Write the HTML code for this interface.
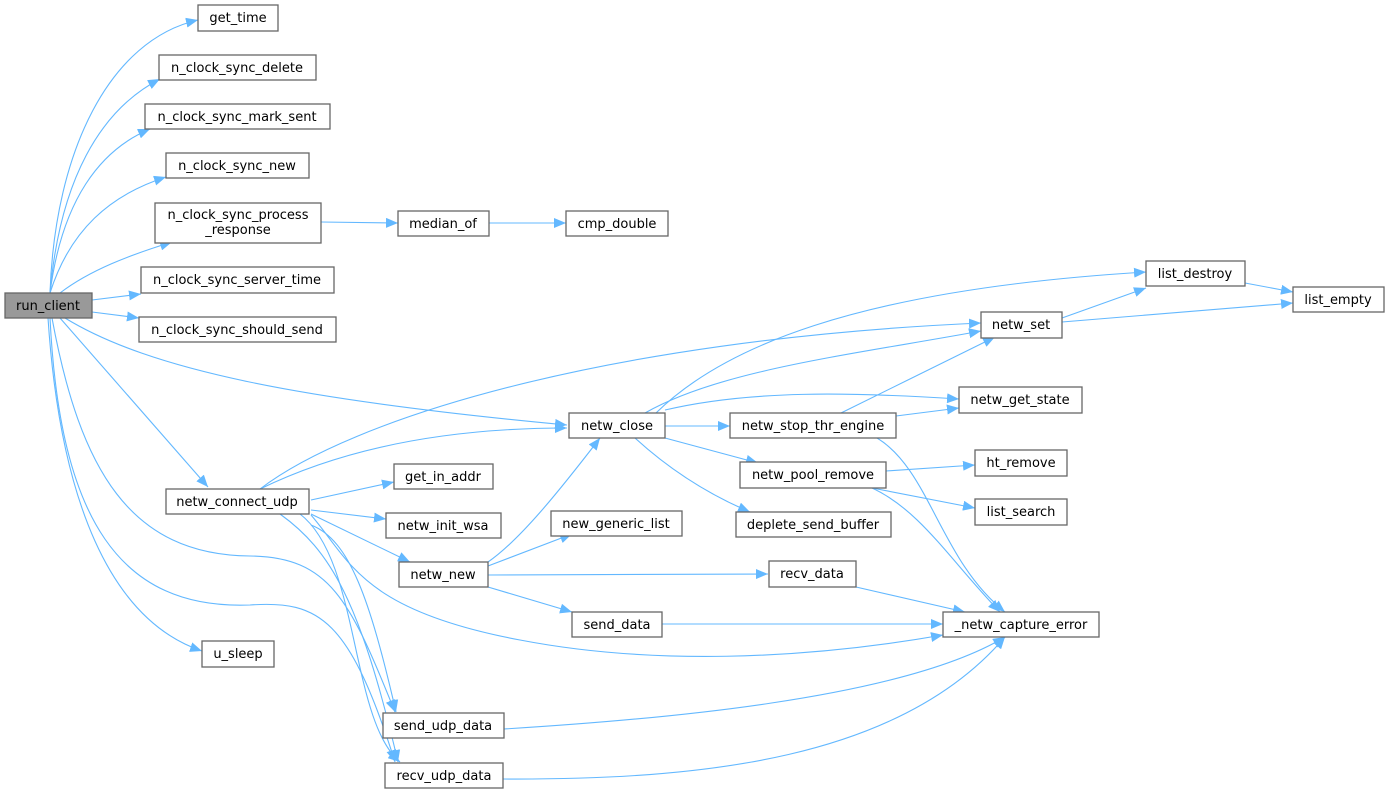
<!DOCTYPE html>
<html><head><meta charset="utf-8"><style>
html,body{margin:0;padding:0;background:#fff;}
svg{display:block;}
text{font-family:"DejaVu Sans","Liberation Sans",sans-serif;font-size:13px;fill:#000;text-anchor:middle;}
.n{fill:#fff;stroke:#666;stroke-width:1.3;}
.e{fill:none;stroke:#63b8ff;stroke-width:1.1;}
</style></head><body>
<svg width="1389" height="793" viewBox="0 0 1389 793" xmlns="http://www.w3.org/2000/svg">
<defs><marker id="a" markerUnits="userSpaceOnUse" markerWidth="13" markerHeight="10" refX="12" refY="5" orient="auto"><path d="M0,0 L12,5 L0,10 z" fill="#63b8ff"/></marker></defs>
<g class="e" marker-end="url(#a)">
<path d="M50,293 C55,150 110,40 198,20"/>
<path d="M50,293 C60,180 100,110 160,79"/>
<path d="M50,293 C62,200 100,150 150,129"/>
<path d="M50,293 C70,230 110,195 166,177"/>
<path d="M60,293 C90,270 130,255 172,242"/>
<path d="M92,300 L141,294"/>
<path d="M92,312 L139,318"/>
<path d="M65,318 C150,370 300,400 567,425"/>
<path d="M60,318 L208,487"/>
<path d="M48,318 C60,500 110,620 202,651"/>
<path d="M52,318 C80,470 130,555 250,556 C330,557 350,600 395,712"/>
<path d="M50,318 C60,520 120,610 250,605 C320,600 350,620 395,762"/>
<path d="M311,525 C350,540 370,600 396,712"/>
<path d="M280,514 C330,550 360,600 398,762"/>
<path d="M300,514 C360,560 350,720 400,762"/>
<path d="M311,500 L394,482"/>
<path d="M311,510 L386,519"/>
<path d="M311,514 L410,562"/>
<path d="M311,515 C350,560 360,610 520,640 C650,665 800,660 943,635"/>
<path d="M260,489 C340,450 440,428 567,428"/>
<path d="M260,489 C350,420 600,340 981,323"/>
<path d="M488,562 C520,540 560,490 600,438"/>
<path d="M488,566 L572,534"/>
<path d="M488,575 L768,574"/>
<path d="M488,587 L572,612"/>
<path d="M656,413 C720,350 850,290 1146,272"/>
<path d="M645,413 C720,370 850,355 981,331"/>
<path d="M665,410 C750,390 850,392 959,399"/>
<path d="M665,426 L730,426"/>
<path d="M665,438 L758,463"/>
<path d="M635,438 C670,470 710,495 750,512"/>
<path d="M841,413 L995,337"/>
<path d="M896,416 L959,408"/>
<path d="M877,438 C930,470 940,560 1005,612"/>
<path d="M886,471 L975,465"/>
<path d="M872,488 L975,508"/>
<path d="M872,488 C920,510 950,560 1000,612"/>
<path d="M856,587 L965,612"/>
<path d="M662,624 L943,624"/>
<path d="M504,729 C650,720 900,700 1005,637"/>
<path d="M503,779 C700,780 900,760 1005,637"/>
<path d="M1062,318 L1146,288"/>
<path d="M1062,322 L1293,303"/>
<path d="M1245,283 L1293,292"/>
<path d="M321,222 L398,223"/>
<path d="M489,223 L566,223"/>
</g>
<rect x="5" y="293" width="87" height="25" fill="#999" stroke="#666" stroke-width="1.3"/><text x="48" y="310">run_client</text>
<rect class="n" x="198" y="5" width="80" height="26"/><text x="238" y="22">get_time</text>
<rect class="n" x="159" y="55" width="157" height="25"/><text x="237" y="72">n_clock_sync_delete</text>
<rect class="n" x="145" y="104" width="185" height="25"/><text x="237" y="121">n_clock_sync_mark_sent</text>
<rect class="n" x="166" y="153" width="143" height="25"/><text x="237" y="170">n_clock_sync_new</text>
<rect class="n" x="155" y="203" width="166" height="40"/><text x="238" y="219">n_clock_sync_process</text><text x="238" y="234">_response</text>
<rect class="n" x="141" y="267" width="193" height="26"/><text x="237" y="284">n_clock_sync_server_time</text>
<rect class="n" x="139" y="317" width="197" height="25"/><text x="237" y="334">n_clock_sync_should_send</text>
<rect class="n" x="398" y="211" width="91" height="25"/><text x="443" y="228">median_of</text>
<rect class="n" x="566" y="211" width="102" height="25"/><text x="617" y="228">cmp_double</text>
<rect class="n" x="166" y="489" width="143" height="25"/><text x="237" y="506">netw_connect_udp</text>
<rect class="n" x="202" y="641" width="72" height="26"/><text x="238" y="658">u_sleep</text>
<rect class="n" x="394" y="464" width="99" height="25"/><text x="443" y="481">get_in_addr</text>
<rect class="n" x="386" y="513" width="115" height="25"/><text x="443" y="530">netw_init_wsa</text>
<rect class="n" x="399" y="562" width="89" height="25"/><text x="443" y="579">netw_new</text>
<rect class="n" x="383" y="713" width="121" height="25"/><text x="443" y="730">send_udp_data</text>
<rect class="n" x="385" y="763" width="118" height="25"/><text x="444" y="780">recv_udp_data</text>
<rect class="n" x="569" y="413" width="96" height="25"/><text x="617" y="430">netw_close</text>
<rect class="n" x="551" y="511" width="131" height="25"/><text x="616" y="528">new_generic_list</text>
<rect class="n" x="572" y="612" width="90" height="25"/><text x="617" y="629">send_data</text>
<rect class="n" x="730" y="413" width="166" height="25"/><text x="813" y="430">netw_stop_thr_engine</text>
<rect class="n" x="740" y="462" width="146" height="26"/><text x="813" y="479">netw_pool_remove</text>
<rect class="n" x="736" y="512" width="155" height="25"/><text x="813" y="529">deplete_send_buffer</text>
<rect class="n" x="769" y="561" width="87" height="26"/><text x="812" y="578">recv_data</text>
<rect class="n" x="981" y="312" width="81" height="26"/><text x="1021" y="329">netw_set</text>
<rect class="n" x="959" y="387" width="123" height="26"/><text x="1020" y="404">netw_get_state</text>
<rect class="n" x="975" y="450" width="92" height="26"/><text x="1021" y="467">ht_remove</text>
<rect class="n" x="975" y="499" width="92" height="26"/><text x="1021" y="516">list_search</text>
<rect class="n" x="943" y="612" width="156" height="25"/><text x="1021" y="629">_netw_capture_error</text>
<rect class="n" x="1146" y="261" width="99" height="25"/><text x="1195" y="278">list_destroy</text>
<rect class="n" x="1293" y="287" width="91" height="25"/><text x="1338" y="304">list_empty</text>
</svg>
</body></html>
